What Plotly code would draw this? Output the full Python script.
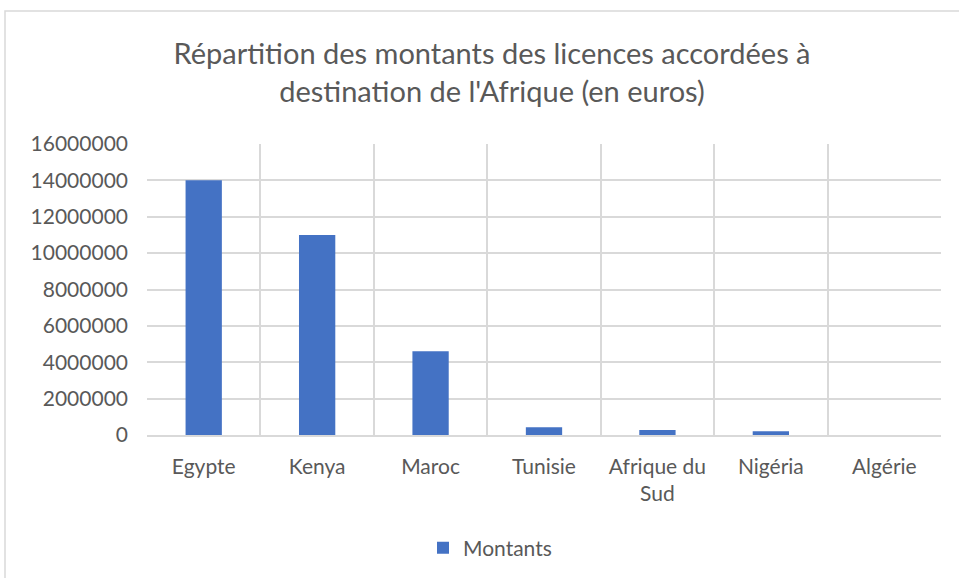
import plotly.graph_objects as go

categories = ["Egypte", "Kenya", "Maroc", "Tunisie", "Afrique du<br>Sud", "Nigéria", "Algérie"]
montants = [14000000, 11000000, 4600000, 430000, 280000, 200000, 0]
y_ticks = [0, 2000000, 4000000, 6000000, 8000000, 10000000, 12000000, 14000000, 16000000]

W, H = 959, 578
L, R, T, B = 147, 18, 144, 143
pw, ph = W - L - R, H - T - B

def px(x):
    return (x - L) / pw

def py(y):
    return (H - B - y) / ph

fig = go.Figure()
fig.add_trace(go.Bar(
    x=categories, y=montants, name="Montants",
    marker=dict(color="#4472C4", line=dict(width=0)),
    showlegend=True,
))

font = "Lato, 'Open Sans', sans-serif"
fig.update_layout(
    width=W, height=H,
    margin=dict(l=L, r=R, t=T, b=B, autoexpand=False),
    paper_bgcolor="white", plot_bgcolor="white",
    title=dict(text="Répartition des montants des licences accordées à<br>destination de l'Afrique (en euros)",
               x=492 / W, xref="container", y=1 - 64 / H, yref="container", xanchor="center", yanchor="middle",
               font=dict(family=font, size=29, color="#595959")),
    bargap=0.68,
    showlegend=True,
    legend=dict(orientation="h", x=px(490), xanchor="center", y=py(548), yanchor="middle",
                font=dict(family=font, size=21, color="#595959")),
    font=dict(family=font, color="#595959"),
)
fig.update_xaxes(type="category", tickson="boundaries", showgrid=True, gridcolor="#D9D9D9", gridwidth=1.5,
                 showline=True, linecolor="#D9D9D9", linewidth=1.5, ticks="", mirror=False,
                 ticklabelstandoff=12, automargin=False,
                 tickfont=dict(family=font, size=21, color="#595959"))
fig.update_yaxes(range=[0, 16000000], tickvals=y_ticks, ticktext=[str(v) for v in y_ticks],
                 showgrid=True, gridcolor="#D9D9D9", gridwidth=1.5, zeroline=False,
                 showline=False, ticks="", ticklabelstandoff=18, automargin=False,
                 tickfont=dict(family=font, size=21, color="#595959"))

fig.add_shape(type="rect", xref="paper", yref="paper",
              x0=px(5), x1=px(975), y0=py(11), y1=py(595),
              line=dict(color="#D9D9D9", width=1.5), fillcolor="rgba(0,0,0,0)", layer="below")

fig.write_html("out.html", config={"displayModeBar": False},
               post_script="document.body.style.margin='0';document.body.style.overflow='hidden';")
